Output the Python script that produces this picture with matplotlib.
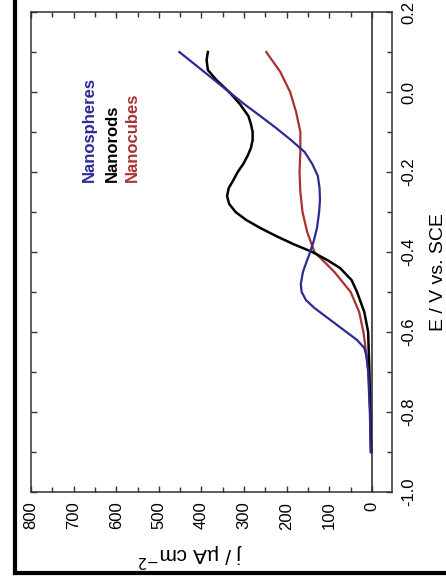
import matplotlib
matplotlib.use('Agg')
from matplotlib import pyplot as plt
from matplotlib.lines import Line2D

plt.rcParams['font.family'] = ['Liberation Sans', 'DejaVu Sans']

# Nanospheres (blue)
e_spheres = [-0.90, -0.80, -0.70, -0.66, -0.64, -0.62, -0.60, -0.58, -0.56, -0.54, -0.52,
             -0.50, -0.48, -0.45, -0.42, -0.40, -0.37, -0.34, -0.30, -0.27, -0.24, -0.21,
             -0.18, -0.15, -0.12, -0.09, -0.06, -0.03, 0.00, 0.03, 0.06, 0.10]
j_spheres = [3, 5, 9, 13, 18, 35, 60, 85, 110, 135, 155,
             165, 167, 162, 152, 145, 136, 129, 124, 122, 123, 127,
             140, 158, 190, 225, 262, 300, 335, 370, 405, 452]

# Nanorods (black)
e_rods = [-0.90, -0.80, -0.70, -0.60, -0.55, -0.50, -0.47, -0.44, -0.42, -0.40, -0.38,
          -0.36, -0.34, -0.32, -0.30, -0.28, -0.26, -0.24, -0.22, -0.20, -0.18, -0.16,
          -0.14, -0.12, -0.10, -0.08, -0.06, -0.03, 0.00, 0.03, 0.055, 0.08, 0.10]
j_rods = [2, 4, 6, 9, 18, 35, 48, 75, 105, 140, 185,
          225, 262, 295, 320, 335, 340, 336, 325, 315, 302, 292,
          284, 280, 280, 284, 290, 310, 335, 365, 385, 388, 385]

# Nanocubes (red)
e_cubes = [-0.90, -0.80, -0.70, -0.60, -0.55, -0.50, -0.45, -0.40, -0.35, -0.30, -0.25,
           -0.20, -0.15, -0.10, -0.05, 0.00, 0.05, 0.10]
j_cubes = [2, 4, 8, 20, 30, 50, 88, 135, 152, 163, 168,
           170, 168, 168, 178, 192, 215, 248]

j_ticks = [0, 100, 200, 300, 400, 500, 600, 700, 800]
e_ticks = [-1.0, -0.8, -0.6, -0.4, -0.2, 0.0, 0.2]

blue = '#2b2b96'
red = '#a83232'

fig = plt.figure(figsize=(4.46, 5.84), dpi=100)
ax = fig.add_axes([31 / 446, 1 - 492 / 584, 361 / 446, 480 / 584])

ax.axvline(0, color='#222222', lw=1.1, zorder=1)
ax.plot(j_cubes, e_cubes, color=red, lw=1.6)
ax.plot(j_rods, e_rods, color='black', lw=1.8)
ax.plot(j_spheres, e_spheres, color=blue, lw=1.6)

ax.set_xlim(800, -47)
ax.set_ylim(-1.0, 0.2)
ax.set_xticks(j_ticks)
ax.set_xticks(range(50, 800, 100), minor=True)
ax.set_yticks(e_ticks)
ax.set_yticks([-0.9, -0.7, -0.5, -0.3, -0.1, 0.1], minor=True)
ax.set_yticklabels(['-1.0', '-0.8', '-0.6', '-0.4', '-0.2', '0.0', '0.2'])

ax.tick_params(which='both', direction='in', top=True, bottom=True, left=True, right=True,
               labelleft=False, labelright=True, color='#333333', width=1)
ax.tick_params(which='major', length=4.5, labelsize=12, pad=7)
ax.tick_params(which='minor', length=3.5)
for lab in ax.get_xticklabels():
    lab.set_rotation(90)
for lab in ax.get_yticklabels():
    lab.set_rotation(90)
    lab.set_verticalalignment('center')
for sp in ax.spines.values():
    sp.set_color('#333333')
    sp.set_linewidth(1.1)

ax.set_xlabel('j / µA cm$^{-2}$', fontsize=15, rotation=180, ha='center', va='center')
ax.xaxis.set_label_coords(0.44, -0.131)
ax.set_ylabel('E / V vs. SCE', fontsize=14, rotation=90, ha='center', va='center')
ax.yaxis.set_label_position('right')
ax.yaxis.set_label_coords(1.106, 0.458)

legend_names = ['Nanospheres', 'Nanorods', 'Nanocubes']
legend_colors = [blue, 'black', red]
legend_j = [662, 610, 561]
for name, c, jx in zip(legend_names, legend_colors, legend_j):
    ax.text(jx, -0.225, name, color=c, fontsize=12, fontweight='bold', rotation=90,
            rotation_mode='anchor', ha='left', va='center')

# outer frame of the panel
fig.add_artist(Line2D([15 / 446, 15 / 446], [1.0, 1 - 573 / 584], color='black', lw=3,
                      transform=fig.transFigure))
fig.add_artist(Line2D([15 / 446, 1.0], [1 - 573 / 584, 1 - 573 / 584], color='black', lw=3,
                      transform=fig.transFigure))

fig.savefig('out.png', dpi=100)
